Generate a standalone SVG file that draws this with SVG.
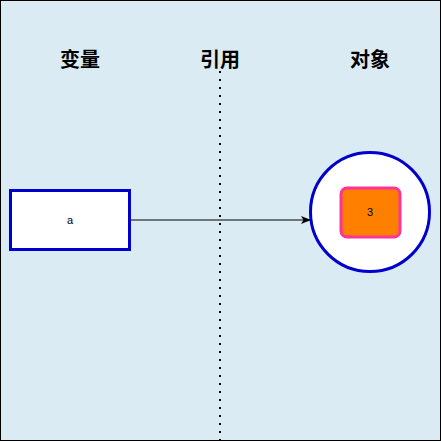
<svg xmlns="http://www.w3.org/2000/svg" width="441" height="443" viewBox="0 0 441 443">
<defs>
<style>
.title{font-family:"Liberation Sans","Noto Sans CJK SC",sans-serif;font-size:20px;font-weight:bold;fill:#000;text-anchor:middle}
.lbl{font-family:"Liberation Sans","Noto Sans CJK SC",sans-serif;font-size:11px;fill:#000;text-anchor:middle;dominant-baseline:central}
</style>
<marker id="arr" markerWidth="10" markerHeight="8" refX="9" refY="4" orient="auto" markerUnits="userSpaceOnUse">
<path d="M0,0 L10,4 L0,8 L2.5,4 Z" fill="#000"/>
</marker>
</defs>
<rect x="0.5" y="0.5" width="440" height="440" fill="#DAEBF3" stroke="#000" stroke-width="1"/>
<g id="titles">
<text class="title" x="80" y="67">变量</text>
<text class="title" x="220" y="67">引用</text>
<text class="title" x="370" y="67">对象</text>
</g>
<g id="divider">
<line x1="220" y1="71" x2="220" y2="440" stroke="#000" stroke-width="2" stroke-dasharray="2 6"/>
</g>
<g id="connectors">
<line x1="130" y1="220" x2="310" y2="220" stroke="#000" stroke-width="1" marker-end="url(#arr)"/>
</g>
<g id="var-a">
<rect x="10.5" y="190.5" width="119" height="59" fill="#fff" stroke="#0000CC" stroke-width="3"/>
<text class="lbl" x="70" y="220">a</text>
</g>
<g id="object">
<circle cx="370" cy="212" r="59.5" fill="#fff" stroke="#0000CC" stroke-width="3"/>
</g>
<g id="value-3">
<rect x="341" y="188" width="59" height="49" rx="6" fill="#FF8000" stroke="#FF3399" stroke-width="3"/>
<text class="lbl" x="370" y="212">3</text>
</g>
</svg>
